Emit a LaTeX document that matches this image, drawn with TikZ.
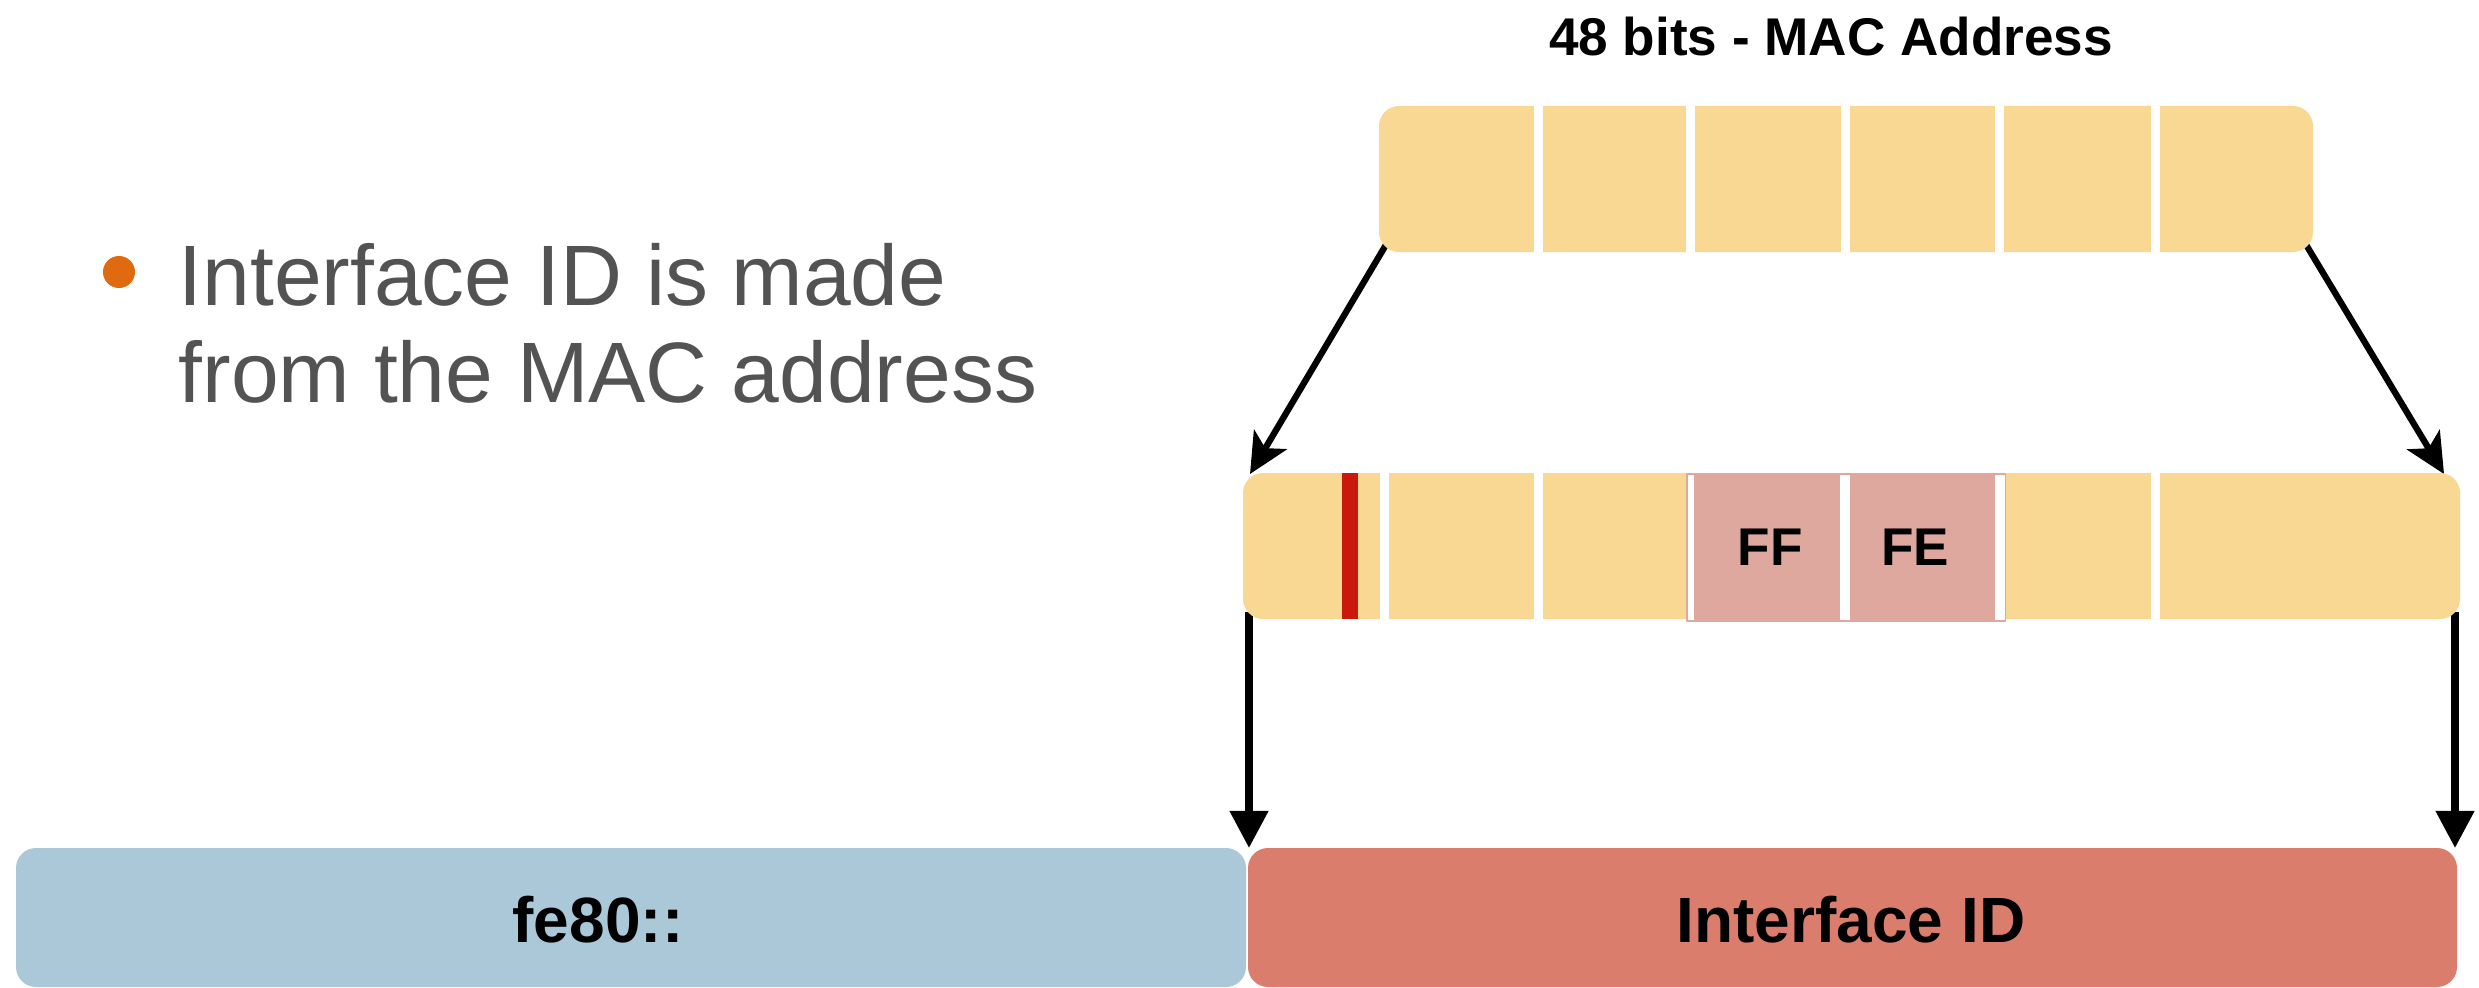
\documentclass[tikz,border=0pt]{standalone}
\usepackage{fontspec}
\setmainfont{Liberation Sans}
\usetikzlibrary{arrows.meta}

\definecolor{bytefill}{HTML}{F9D893}
\definecolor{fffefill}{HTML}{DEA89F}
\definecolor{prefixfill}{HTML}{ABC8D9}
\definecolor{ifidfill}{HTML}{DB7D6D}
\definecolor{ulbit}{HTML}{C8190C}
\definecolor{dotcolor}{HTML}{E06A10}
\definecolor{textgrey}{HTML}{535353}

\begin{document}
\begin{tikzpicture}[
  x=0.01cm, y=-0.01cm,
  line join=round,
  bar/.style={rounded corners=2mm},
  gap/.style={white, line width=0.09cm},
  link/.style={line width=2.1pt, -{Triangle[length=3.7mm,width=3.7mm]}},
  slant/.style={line width=1.8pt, -{Stealth[length=4mm,width=3.8mm,inset=1mm]}},
  bitlabel/.style={font=\bfseries\fontsize{15.1pt}{18pt}\selectfont, inner sep=0pt, anchor=base},
  fieldtext/.style={font=\bfseries\fontsize{18.2pt}{22pt}\selectfont, inner sep=0pt, anchor=base},
  bodytext/.style={font=\fontsize{24.4pt}{28pt}\selectfont, text=textgrey, inner sep=0pt, anchor=base west}
]
  \useasboundingbox (0,0) rectangle (2479,988);

  % MAC address, 6 bytes
  \coordinate (macNW) at (1379,106);
  \coordinate (macSE) at (2313,252);
  % EUI-64 with FFFE inserted
  \coordinate (euiNW) at (1243,473);
  \coordinate (euiSE) at (2460,619);
  % prefix and interface ID
  \coordinate (preNW) at (16,848);
  \coordinate (preSE) at (1246,987);
  \coordinate (idNW) at (1248,848);
  \coordinate (idSE) at (2457,987);

  % arrow ends
  \coordinate (macL) at (1387,243);
  \coordinate (macR) at (2305,243);
  \coordinate (euiTL) at (1250,474);
  \coordinate (euiTR) at (2444,474);
  \coordinate (euiBL) at (1249,612);
  \coordinate (euiBR) at (2455,612);
  \coordinate (preT) at (1249,848);
  \coordinate (idT) at (2455,848);

  % Arrows
  \draw[slant] (macL) -- (euiTL);
  \draw[slant] (macR) -- (euiTR);
  \draw[link] (euiBL) -- (preT);
  \draw[link] (euiBR) -- (idT);

  % MAC bar
  \fill[bytefill, bar] (macNW) rectangle (macSE);
  \draw[gap] (1538,106) -- (1538,252);
  \draw[gap] (1690,106) -- (1690,252);
  \draw[gap] (1845,106) -- (1845,252);
  \draw[gap] (1999,106) -- (1999,252);
  \draw[gap] (2155,106) -- (2155,252);

  % EUI-64 bar
  \fill[bytefill, bar] (euiNW) rectangle (euiSE);
  \fill[ulbit] (1342,473) rectangle (1358,619);
  \filldraw[fill=white, draw=fffefill, line width=0.3pt] (1687,474) rectangle (2005,621);
  \fill[fffefill] (1694,475) rectangle (1840,621);
  \fill[fffefill] (1850,475) rectangle (1995,621);
  \draw[gap] (1384.5,473) -- (1384.5,619);
  \draw[gap] (1538.5,473) -- (1538.5,619);
  \draw[gap] (2155,473) -- (2155,619);

  % Prefix + interface ID
  \fill[prefixfill, bar] (preNW) rectangle (preSE);
  \fill[ifidfill, bar] (idNW) rectangle (idSE);

  % Labels
  \node[bitlabel] (title) at (1831,56) {48 bits - MAC Address};
  \node[bitlabel] (ff) at (1770,565) {FF};
  \node[bitlabel] (fe) at (1915,565) {FE};
  \node[fieldtext] (prefix) at (598,942) {fe80::};
  \node[fieldtext] (ifid) at (1851,942) {Interface ID};

  % Bullet point
  \fill[dotcolor] (119,272) circle (0.16cm);
  \node[bodytext] (lineA) at (178,305) {Interface ID is made};
  \node[bodytext] (lineB) at (178,402) {from the MAC address};
\end{tikzpicture}
\end{document}
